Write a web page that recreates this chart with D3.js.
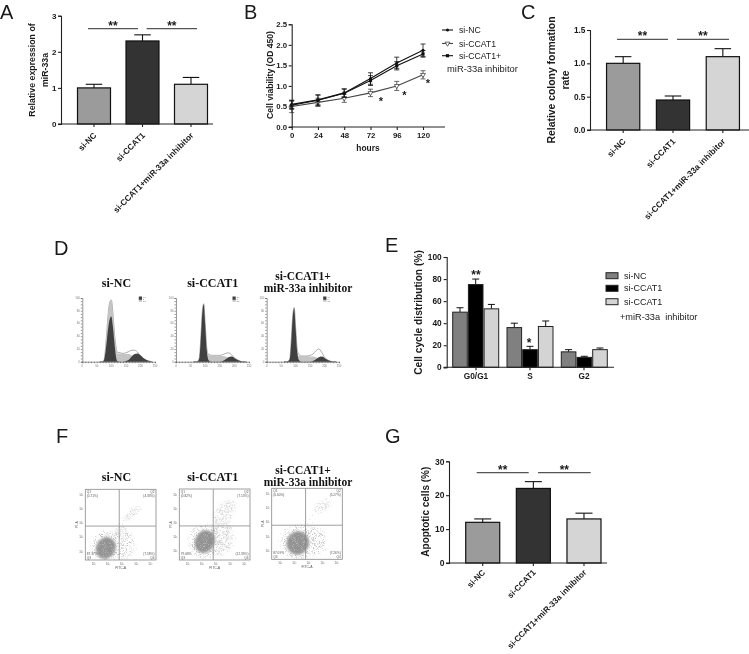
<!DOCTYPE html>
<html><head><meta charset="utf-8">
<script src="https://cdnjs.cloudflare.com/ajax/libs/d3/7.8.5/d3.min.js"></script>
<style>html,body{margin:0;background:#fff}svg{display:block;filter:blur(.4px)}text{font-family:"Liberation Sans",Arial,sans-serif;fill:#1a1a1a}</style>
</head><body><div id="c"></div>
<script>
// ---- data ----
const groupsABC=["si-NC","si-CCAT1","si-CCAT1+miR-33a inhibitor"];
const aValues=[1,2.3,1.1], aTops=[1.1,2.47,1.29];
const cValues=[1,0.45,1.1], cTops=[1.1,0.51,1.22];
const gValues=[12,22,13], gTops=[13,24,14.7];
const hours=[0,24,48,72,96,120];
const bNC=[0.55,0.66,0.83,1.18,1.56,1.87], bNCErr=[0.1,0.12,0.1,0.14,0.14,0.15];
const bCCAT=[0.50,0.60,0.70,0.83,1.00,1.27], bCCATErr=[0.15,0.1,0.1,0.09,0.11,0.1];
const bInh=[0.53,0.65,0.82,1.13,1.49,1.78], bInhErr=[0.1,0.13,0.1,0.12,0.1,0.08];
const eCats=["G0/G1","S","G2"], eSeries=["si-NC","si-CCAT1","si-CCAT1"];
const eValues=[[50,75,53],[36,16,37],[14,9,16]], eTops=[[54,80,57],[40,19,42],[16,10,17.5]];
const channels=[60,70,75,80,85,90,95,100,105,110,115,120,130,140,150,160,170,180,190,200,210,220,230,240];
const hTotal=[
 [0,0,3,22,52,80,94,97,78,48,26,15,14,13,14,16,18,18,15,9,5,2,1,0],
 [0,0,1,6,38,78,91,60,24,12,11,10,10,10,10,11,13,14,11,6,3,1,0,0],
 [0,0,1,5,34,72,85,55,22,12,10,9,9,9,10,12,17,20,15,7,3,1,0,0]];
const hPeak=[
 [0,0,3,22,52,80,94,97,78,48,26,13,0,0,0,0,0,0,0,0,0,0,0,0],
 [0,0,1,6,38,78,91,60,24,10,0,0,0,0,0,0,0,0,0,0,0,0,0,0],
 [0,0,1,5,34,72,85,55,22,9,0,0,0,0,0,0,0,0,0,0,0,0,0,0]];
const hG1=[
 [0,0,3,16,36,56,68,71,56,32,10,1,0,0,0,0,0,0,0,0,0,0,0,0],
 [0,0,1,6,36,76,90,58,20,4,1,0,0,0,0,0,0,0,0,0,0,0,0,0],
 [0,0,1,5,32,70,84,53,18,4,1,0,0,0,0,0,0,0,0,0,0,0,0,0]];
const hS=[
 [0,0,0,0,1,3,6,8,11,13,13,13,13,12,12,12,10,8,6,4,2,1,0,0],
 [0,0,0,0,1,2,4,6,9,10,10,10,10,10,9,9,8,6,4,2,1,0,0,0],
 [0,0,0,0,1,2,4,6,8,9,9,9,9,9,8,8,7,5,3,2,1,0,0,0]];
const hG2=[
 [0,0,0,0,0,0,0,0,0,0,0,0,0,0,1,3,8,12,13,10,6,3,1,0],
 [0,0,0,0,0,0,0,0,0,0,0,0,0,0,0,1,4,7,8,6,3,1,0,0],
 [0,0,0,0,0,0,0,0,0,0,0,0,0,0,0,1,4,7,8,6,3,1,0,0]];
const fPctQ1=["(0.71%)","(0.82%)","(0.60%)"], fPctQ2=["(4.33%)","(7.13%)","(5.27%)"];
const fPctQ3=["87.37%","79.68%","87.09%"], fPctQ4=["(7.58%)","(12.39%)","(7.26%)"];
// dense populations: cx, cy, rx, ry (decades)
const fBlobs=[[1.45,0.85,0.68,0.78],[1.8,1.3,0.68,0.82],[1.85,1.15,0.78,0.82]];
// sparse regions: cx, cy, rx, ry, tilt in degrees
const fClouds=[
 [[1.5,1.0,1.05,1.05,0],[2.7,1.05,0.75,1.0,0],[3.3,3.35,0.75,0.25,-40],[2.4,2.0,0.55,0.3,-40]],
 [[1.8,1.3,1.15,1.2,0],[3.0,1.5,0.8,1.2,15],[3.2,3.3,1.0,0.65,-50]],
 [[1.9,1.2,1.2,1.2,0],[3.0,1.3,0.8,1.05,0],[3.6,3.7,0.65,0.3,-20]]];
const fPoints=[
 [[3.0,3.0],[3.1,3.1],[3.2,3.2],[3.3,3.3],[3.4,3.4],[3.5,3.5],[3.6,3.6],[3.7,3.55],[3.0,3.2],[3.2,3.0],[3.4,3.2],[3.6,3.3],[3.8,3.8],[3.9,3.6],[2.9,2.9],[2.7,2.8],[3.3,3.6],[3.5,3.25],[2.9,3.1],[3.15,3.3],[3.45,3.55],[3.1,2.9],[3.35,3.1],[2.5,2.2],[2.4,2.3],[2.3,2.1],[2.2,2.2],[2.1,2.0],[2.5,2.0],[2.6,2.3],[2.7,1.9],[2.8,2.2],[2.9,1.5],[2.6,1.5],[2.5,1.2],[2.7,1.1],[2.9,0.8],[2.5,0.6],[2.8,0.4],[3.1,1.0],[3.2,0.6],[3.4,1.3],[3.0,1.8],[2.4,1.7],[2.2,1.5],[2.3,1.0],[2.2,0.5],[2.3,0.2],[2.0,1.7],[1.9,1.4],[1.7,1.7],[2.0,0.3],[1.6,0.2],[1.3,0.15],[1.0,0.2],[0.7,0.3],[0.5,0.6],[0.4,1.0],[0.6,1.4],[0.9,1.6],[1.2,1.8],[1.5,1.9],[2.35,1.95],[2.45,1.5],[2.15,1.85],[2.05,1.25],[2.15,0.9],[2.1,0.65],[2.6,0.9],[2.75,1.55],[3.3,1.9],[3.6,0.8],[2.65,2.55],[2.4,2.6],[1.8,2.0]],
 [[2.6,2.6],[2.8,2.9],[3.0,3.2],[3.2,3.4],[3.4,3.7],[3.6,3.9],[3.8,4.1],[3.9,3.8],[3.6,3.4],[3.3,3.0],[3.0,2.8],[2.7,3.1],[2.9,3.5],[3.2,3.8],[3.5,4.2],[3.7,3.6],[3.1,2.6],[3.5,3.0],[2.5,3.0],[3.4,4.0],[2.8,2.5],[3.3,2.65],[3.0,3.7],[2.6,2.0],[2.7,1.6],[2.9,2.1],[3.0,1.4],[3.2,2.0],[3.3,1.5],[3.5,1.9],[2.8,1.1],[3.0,0.8],[3.2,1.1],[3.5,1.2],[3.7,2.2],[3.1,1.8],[2.5,1.2],[2.6,0.7],[2.9,1.7],[2.75,2.3],[3.05,2.3],[3.4,2.3],[2.55,1.6],[2.7,0.4],[2.95,0.35],[3.4,0.6],[3.8,1.0],[4.0,1.5],[2.1,0.5],[1.8,0.2],[1.5,0.25],[1.2,0.35],[2.2,0.2],[0.9,0.6],[0.7,1.0],[0.6,1.5],[0.8,2.0],[1.1,2.2],[1.5,2.35],[2.0,2.4],[2.3,2.3],[2.55,2.25],[2.85,1.35],[3.15,1.55],[3.35,0.95],[2.65,1.85]],
 [[3.1,3.4],[3.3,3.6],[3.5,3.7],[3.7,3.8],[3.9,3.9],[3.4,3.9],[3.6,4.1],[3.8,4.2],[3.2,3.7],[3.6,3.5],[4.0,3.7],[3.3,3.2],[3.5,3.3],[3.9,4.3],[2.9,3.1],[3.45,3.45],[3.75,3.55],[3.65,3.95],[3.25,3.95],[2.7,2.8],[2.55,2.5],[2.6,2.0],[2.8,2.2],[3.0,1.9],[2.7,1.6],[2.9,1.4],[3.2,1.6],[3.4,1.2],[2.6,1.2],[2.8,0.9],[3.1,1.0],[3.3,0.7],[2.65,0.6],[2.9,0.4],[3.5,1.7],[3.6,1.0],[2.6,1.75],[2.75,1.95],[3.05,1.35],[3.2,2.05],[2.5,0.9],[2.55,0.45],[3.0,0.6],[3.8,0.7],[2.1,0.3],[1.7,0.15],[1.4,0.2],[1.1,0.3],[0.8,0.55],[0.6,0.9],[0.5,1.3],[0.6,1.8],[0.9,2.1],[1.3,2.25],[1.7,2.35],[2.1,2.45],[2.35,2.35],[2.9,2.6],[3.25,1.3],[2.95,1.15],[2.7,1.4]]];
// ---- layout ----
const svg=d3.select("#c").append("svg").attr("width",749).attr("height",654);
const AX="#222", LB='"Liberation Sans",Arial,sans-serif';
function letter(t,x,y){svg.append("text").attr("x",x).attr("y",y).attr("font-size",20).text(t);}
letter("A",0,18.5);letter("B",244,18.5);letter("C",521,18.5);letter("D",54,255);letter("E",385,252);letter("F",56,443);letter("G",385,443);
function rotLabel(lines,x,ys,fs){lines.forEach((l,i)=>svg.append("text").attr("transform",`translate(${x[i]},${ys}) rotate(-90)`).attr("text-anchor","middle").attr("dominant-baseline","middle").attr("font-size",fs).attr("font-weight","bold").text(l));}
function styleAxis(g,fs){g.selectAll("path,line").attr("stroke",AX).attr("stroke-width",1.1);g.selectAll("text").attr("font-size",fs).attr("font-weight","bold").attr("font-family",LB).attr("fill","#1a1a1a");}
function stars(t,x,y,fs){svg.append("text").attr("x",x).attr("y",y).attr("text-anchor","middle").attr("font-size",fs||10).attr("font-weight","bold").text(t);}
function sig(y,spans,col){spans.forEach(s=>{svg.append("line").attr("x1",s[0]).attr("x2",s[1]).attr("y1",y).attr("y2",y).attr("stroke",col||"#555").attr("stroke-width",1.2);stars("**",(s[0]+s[1])/2,y+1,12);});}
const fills=["#9b9b9b","#333333","#d5d5d5"];
function barPanel(o){
 const y=d3.scaleLinear().domain([0,o.max]).range([o.y0,o.y1]);
 const step=o.c[1]-o.c[0];
 const x=d3.scaleBand().domain(groupsABC).range([o.c[0]-step/2,o.c[2]+step/2]).paddingInner(1-o.w/step).paddingOuter((1-o.w/step)/2);
 const g=svg.append("g");
 o.values.forEach((v,i)=>{const c=groupsABC[i],m=x(c)+x.bandwidth()/2;
  g.append("line").attr("x1",m).attr("x2",m).attr("y1",y(v)).attr("y2",y(o.tops[i])).attr("stroke","#111").attr("stroke-width",1.1);
  g.append("line").attr("x1",m-o.w*.25).attr("x2",m+o.w*.25).attr("y1",y(o.tops[i])).attr("y2",y(o.tops[i])).attr("stroke","#111").attr("stroke-width",1.1);
  g.append("rect").attr("x",x(c)).attr("width",x.bandwidth()).attr("y",y(v)).attr("height",y(0)-y(v)).attr("fill",fills[i]).attr("stroke","#111").attr("stroke-width",1.2);
 });
 const ya=svg.append("g").attr("transform",`translate(${o.ax},0)`).call(d3.axisLeft(y).tickValues(o.ticks).tickFormat(o.fmt).tickSize(3).tickPadding(1.5));
 styleAxis(ya,o.tf);
 const xa=svg.append("g").attr("transform",`translate(0,${o.y0})`).call(d3.axisBottom(x).tickSize(3).tickSizeOuter(0));
 xa.select("path").attr("d",`M${o.ax-3},0H${o.xEnd}`);
 styleAxis(xa,o.xf);
 xa.selectAll(".tick text").attr("text-anchor","end").attr("dominant-baseline","auto").attr("dy",0).attr("y",0).attr("x",0).attr("transform",`translate(3,${o.lo||12}) rotate(-45)`);
}
barPanel({values:aValues,tops:aTops,max:3,y0:124,y1:15.7,c:[94,142.5,191],w:33,ax:61,xEnd:213,ticks:[0,1,2,3],fmt:d3.format("d"),tf:8,xf:8.3});
rotLabel(["Relative expression of","miR-33a"],[33,46],70,8.8);
sig(28.7,[[88,138],[146.7,197]]);
barPanel({values:cValues,tops:cTops,max:1.5,y0:130,y1:30,c:[623,672.5,723],w:33,ax:590,xEnd:749,ticks:[0,0.5,1,1.5],fmt:d3.format(".1f"),tf:8.3,xf:8.4});
rotLabel(["Relative colony formation","rate"],[552.7,566],80,10.4);
sig(39.3,[[617,668],[677,729]]);
barPanel({values:gValues,tops:gTops,max:30,y0:563,y1:461.3,c:[482.7,533.3,584],w:34,ax:449,xEnd:607,ticks:[0,10,20,30],fmt:d3.format("d"),tf:8.5,xf:8.2,lo:10});
rotLabel(["Apoptotic cells (%)"],[426],511.7,10);
sig(472.7,[[476.7,528.7],[538,590.7]]);
// ---- B ----
{
 const x=d3.scaleLinear().domain([0,120]).range([291.7,423]);
 const y=d3.scaleLinear().domain([0,2.5]).range([127,24.3]);
 const series=[[bCCAT,bCCATErr,"tri","#444"],[bInh,bInhErr,"sq","#111"],[bNC,bNCErr,"dot","#111"]];
 const line=d3.line().x((d,i)=>x(hours[i])).y(d=>y(d));
 const marker=(g,k,cx,cy)=>{
  if(k=="tri")g.append("path").attr("d",d3.symbol(d3.symbolTriangle,10)).attr("transform",`translate(${cx},${cy}) rotate(180)`).attr("fill","#fff").attr("stroke","#444").attr("stroke-width",.8);
  else if(k=="sq")g.append("rect").attr("x",cx-1.6).attr("y",cy-1.6).attr("width",3.2).attr("height",3.2).attr("fill","#111");
  else g.append("circle").attr("cx",cx).attr("cy",cy).attr("r",1.5).attr("fill","#111");
 };
 const g=svg.append("g");
 series.forEach(([v,e,k,c])=>{
  g.append("path").attr("d",line(v)).attr("fill","none").attr("stroke",c).attr("stroke-width",1.1);
  v.forEach((d,i)=>{const cx=x(hours[i]);
   g.append("path").attr("d",`M${cx-2.5},${y(d+e[i])}H${cx+2.5}M${cx},${y(d+e[i])}V${y(d-e[i])}M${cx-2.5},${y(d-e[i])}H${cx+2.5}`).attr("stroke",c).attr("stroke-width",.8).attr("fill","none");
   marker(g,k,cx,y(d));});
 });
 const ya=svg.append("g").attr("transform","translate(291.7,0)").call(d3.axisLeft(y).tickValues([0,.5,1,1.5,2,2.5]).tickFormat(d3.format(".1f")).tickSize(3).tickPadding(1.5));
 styleAxis(ya,7.8);
 const xa=svg.append("g").attr("transform","translate(0,127)").call(d3.axisBottom(x).tickValues(hours).tickSize(3).tickSizeOuter(0).tickPadding(2));
 xa.select("path").attr("d","M288.7,0H445");
 styleAxis(xa,7.8);
 rotLabel(["Cell viability (OD 450)"],[270.7],75,8.6);
 svg.append("text").attr("x",368).attr("y",151).attr("text-anchor","middle").attr("font-size",8.4).attr("font-weight","bold").text("hours");
 [[381,105],[404.5,99],[428,87]].forEach(p=>stars("*",p[0],p[1],11));
 const leg=[["si-NC",30,"dot"],["si-CCAT1",43.5,"tri"],["si-CCAT1+",55.7,"sq"]];
 leg.forEach(([t,ly,k])=>{svg.append("line").attr("x1",442).attr("x2",453).attr("y1",ly).attr("y2",ly).attr("stroke",k=="tri"?"#444":"#111").attr("stroke-width",1.1);
  marker(svg,k,447.5,ly);
  svg.append("text").attr("x",459).attr("y",ly+3).attr("font-size",8.7).text(t);});
 svg.append("text").attr("x",447).attr("y",72).attr("font-size",9.4).text("miR-33a inhibitor");
}
// ---- E ----
{
 const y=d3.scaleLinear().domain([0,100]).range([367.3,257]);
 const x=d3.scaleBand().domain(eCats).range([449,611]);
 const eFill=["#808080","#000","#d4d4d4"];
 const inner=d3.scaleBand().domain([0,1,2]).range([0,46]).paddingInner(.07);
 const starts=[452.7,507,561.3];
 eValues.forEach((vals,gi)=>vals.forEach((v,i)=>{const bx=starts[gi]+inner(i),m=bx+inner.bandwidth()/2;
  svg.append("path").attr("d",`M${m},${y(v)}V${y(eTops[gi][i])}M${m-3.5},${y(eTops[gi][i])}H${m+3.5}`).attr("stroke","#111").attr("stroke-width",1).attr("fill","none");
  svg.append("rect").attr("x",bx).attr("y",y(v)).attr("width",inner.bandwidth()).attr("height",y(0)-y(v)).attr("fill",eFill[i]).attr("stroke","#222").attr("stroke-width",1);
 }));
 const ya=svg.append("g").attr("transform","translate(446.7,0)").call(d3.axisLeft(y).tickValues([0,20,40,60,80,100]).tickSize(3).tickPadding(2));
 styleAxis(ya,8.3);
 const xa=svg.append("g").attr("transform","translate(0,367.3)").call(d3.axisBottom(x).tickSize(3).tickSizeOuter(0).tickPadding(3));
 xa.select("path").attr("d","M443.7,0H614");
 styleAxis(xa,8.3);
 rotLabel(["Cell cycle distribution (%)"],[419],312.5,10.2);
 stars("**",476,279,12);stars("*",529,347,12);
 [275.7,288.3,301.7].forEach((ly,i)=>{svg.append("rect").attr("x",606).attr("y",ly-3).attr("width",12).attr("height",6).attr("fill",eFill[i]).attr("stroke","#222");
  svg.append("text").attr("x",624).attr("y",ly+3).attr("font-size",9).text(eSeries[i]);});
 svg.append("text").attr("x",620).attr("y",319.5).attr("font-size",9.2).style("white-space","pre").text("+miR-33a  inhibitor");
}
// ---- D / F titles ----
function titles(y1,y2,y3){
 const t=(s,x,y,fs)=>svg.append("text").attr("x",x).attr("y",y).attr("text-anchor","middle").attr("font-size",fs||12).attr("font-weight","bold").style("font-family",'"Liberation Serif",serif').style("fill","#111").text(s);
 t("si-NC",116.5,y1);t("si-CCAT1",212.7,y1);t("si-CCAT1+",303,y2,11.5);t("miR-33a inhibitor",308,y3,11.5);
}
titles(287,280,292);titles(481,474,486);
// ---- D histograms ----
const dPanels=[[82.3,155],[176,249],[266.7,339]];
const dy=d3.scaleLinear().domain([0,100]).range([361.7,298]);
dPanels.forEach((p,i)=>{
 const x=d3.scaleLinear().domain([0,250]).range(p);
 const g=svg.append("g");
 const area=a=>d3.area().x((d,j)=>x(channels[j])).y0(dy(0)).y1(d=>dy(d)).curve(d3.curveMonotoneX)(a);
 g.append("path").attr("d",area(hTotal[i])).attr("fill","#fff").attr("stroke","#888").attr("stroke-width",.7);
 g.append("path").attr("d",area(hPeak[i])).attr("fill","#c4c4c4");
 g.append("path").attr("d",area(hS[i])).attr("fill","#c4c4c4");
 g.append("path").attr("d",area(hG1[i])).attr("fill","#404040");
 g.append("path").attr("d",area(hG2[i])).attr("fill","#404040");
 const ya=g.append("g").attr("transform",`translate(${p[0]},0)`).call(d3.axisLeft(dy).ticks(20).tickFormat("").tickSize(1.5));
 const xa=g.append("g").attr("transform","translate(0,361.7)").call(d3.axisBottom(x).ticks(25).tickFormat("").tickSize(1.5));
 [ya,xa].forEach(a=>a.selectAll("path,line").attr("stroke","#555").attr("stroke-width",.6));
 x.ticks(5).forEach(t=>g.append("text").attr("x",x(t)).attr("y",367).attr("text-anchor","middle").attr("font-size",2.8).style("fill","#777").text(t));
 dy.ticks(5).forEach(t=>g.append("text").attr("x",p[0]-2.5).attr("y",dy(t)+1).attr("text-anchor","end").attr("font-size",2.8).style("fill","#777").text(t));
 g.append("rect").attr("x",p[0]+56.5).attr("y",296.5).attr("width",3.2).attr("height",3.4).attr("fill","#404040");
 g.append("rect").attr("x",p[0]+56.5).attr("y",299.9).attr("width",3.2).attr("height",1.9).attr("fill","#c4c4c4");
 ["G1","S","G2"].forEach((s,j)=>g.append("text").attr("x",p[0]+60.5).attr("y",298+j*1.9).attr("font-size",2.2).style("fill","#777").text(s));
});
// ---- F scatter ----
const fFrames=[[85.3,156,489.3,560],[179.3,250,489,560],[271.7,342.3,488.3,559.3]];
const defs=svg.append("defs");
defs.append("filter").attr("id","soft").append("feGaussianBlur").attr("stdDeviation",1.1);
const sp=defs.append("filter").attr("id","speck").attr("x","-30%").attr("y","-30%").attr("width","160%").attr("height","160%").attr("color-interpolation-filters","sRGB");
sp.append("feGaussianBlur").attr("in","SourceGraphic").attr("stdDeviation",1.6).attr("result","edge");
sp.append("feTurbulence").attr("type","fractalNoise").attr("baseFrequency",1.1).attr("numOctaves",2).attr("seed",4).attr("result","n");
sp.append("feColorMatrix").attr("in","n").attr("type","matrix").attr("values","0 0 0 0 0  0 0 0 0 0  0 0 0 0 0  5 0 0 0 -2.6").attr("result","mask");
sp.append("feComposite").attr("in","edge").attr("in2","mask").attr("operator","in");
fFrames.forEach((f,i)=>{
 const x=d3.scaleLinear().domain([0,5]).range([f[0],f[1]]);
 const y=d3.scaleLinear().domain([0,5]).range([f[3],f[2]]);
 const g=svg.append("g");
 const clip=defs.append("clipPath").attr("id","fc"+i);
 clip.append("rect").attr("x",f[0]).attr("y",f[2]).attr("width",f[1]-f[0]).attr("height",f[3]-f[2]);
 const cl=g.append("g").attr("clip-path",`url(#fc${i})`);
 fClouds[i].forEach(c=>cl.append("ellipse").attr("cx",x(c[0])).attr("cy",y(c[1])).attr("rx",x(c[2])-x(0)).attr("ry",y(0)-y(c[3])).attr("fill","#c2c2c2").attr("filter","url(#speck)").attr("transform",`rotate(${c[4]} ${x(c[0])} ${y(c[1])})`));
 const b=fBlobs[i];
 cl.append("ellipse").attr("cx",x(b[0])).attr("cy",y(b[1])).attr("rx",x(b[2])-x(0)).attr("ry",y(0)-y(b[3])).attr("fill","#929292").attr("filter","url(#soft)").attr("transform",`rotate(25 ${x(b[0])} ${y(b[1])})`);
 cl.append("ellipse").attr("cx",x(b[0])).attr("cy",y(b[1])).attr("rx",x(b[2])-x(0)).attr("ry",y(0)-y(b[3])).attr("fill","#b4b4b4").attr("filter","url(#speck)");
 cl.selectAll("circle").data(fPoints[i]).join("circle").attr("cx",d=>x(d[0])).attr("cy",d=>y(d[1])).attr("r",.45).attr("fill","#bbb");
 g.append("rect").attr("x",f[0]).attr("y",f[2]).attr("width",f[1]-f[0]).attr("height",f[3]-f[2]).attr("fill","none").attr("stroke","#888").attr("stroke-width",.8);
 g.append("line").attr("x1",x(2.4)).attr("x2",x(2.4)).attr("y1",f[2]).attr("y2",f[3]).attr("stroke","#888").attr("stroke-width",.8);
 g.append("line").attr("x1",f[0]).attr("x2",f[1]).attr("y1",y(2.4)).attr("y2",y(2.4)).attr("stroke","#888").attr("stroke-width",.8);
 const lab=(s,px,py,a)=>g.append("text").attr("x",px).attr("y",py).attr("text-anchor",a||"start").attr("font-size",3.2).style("fill","#555").text(s);
 lab("Q1",f[0]+1.5,f[2]+4);lab(fPctQ1[i],f[0]+1.5,f[2]+8);
 lab("Q2",f[1]-1.5,f[2]+4,"end");lab(fPctQ2[i],f[1]-1.5,f[2]+8,"end");
 lab(fPctQ3[i],f[0]+1.5,f[3]-5);lab("Q3",f[0]+1.5,f[3]-1);
 lab(fPctQ4[i],f[1]-1.5,f[3]-5,"end");lab("Q4",f[1]-1.5,f[3]-1,"end");
 [.6,1.6,2.6,3.6,4.6].forEach(t=>{
  g.append("text").attr("x",x(t)).attr("y",f[3]+4.5).attr("text-anchor","middle").attr("font-size",2.8).style("fill","#666").text("10³");
  g.append("text").attr("x",f[0]-2).attr("y",y(t)+1).attr("text-anchor","end").attr("font-size",2.8).style("fill","#666").text("10³");
 });
 g.append("text").attr("x",(f[0]+f[1])/2).attr("y",f[3]+9).attr("text-anchor","middle").attr("font-size",3.4).style("fill","#555").text("FITC-A");
 g.append("text").attr("transform",`translate(${f[0]-7.5},${(f[2]+f[3])/2}) rotate(-90)`).attr("text-anchor","middle").attr("font-size",3.4).style("fill","#555").text("PI-A");
});
</script></body></html>
